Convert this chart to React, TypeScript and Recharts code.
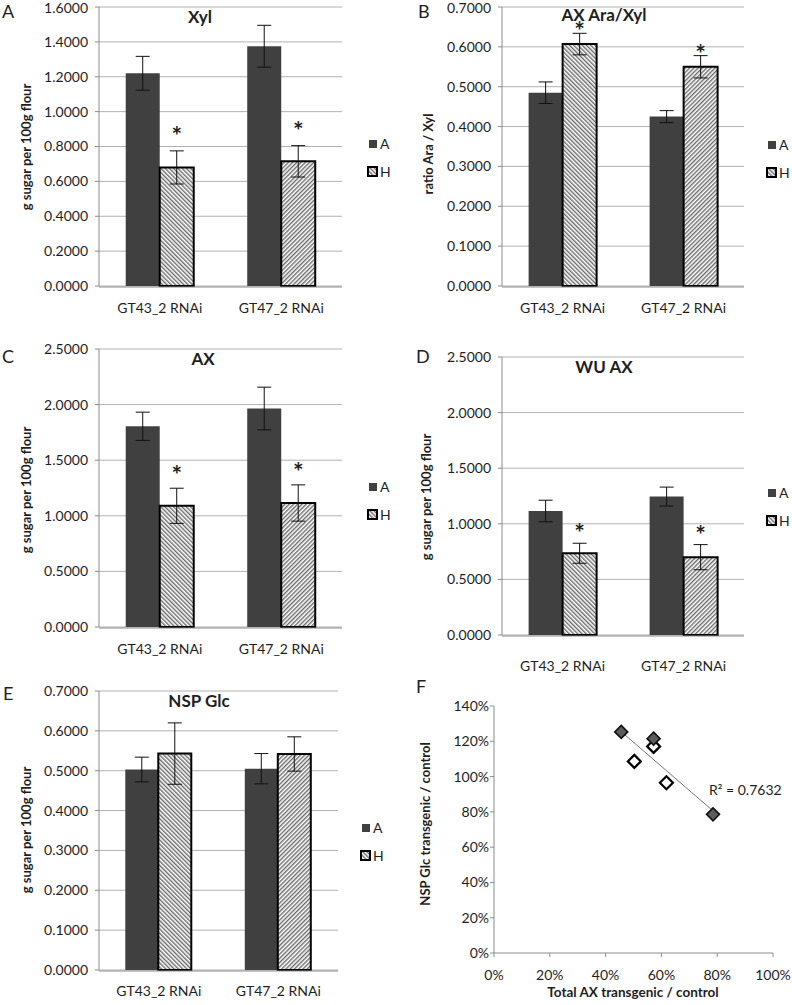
import React from 'react'
import {
  BarChart, Bar, XAxis, YAxis, CartesianGrid, ErrorBar, Cell, LabelList, Legend,
  ScatterChart, Scatter,
} from 'recharts'

const CATEGORIES = ['GT43_2 RNAi', 'GT47_2 RNAi']

// A – Xyl
const XYL_A = [1.22, 1.375]
const XYL_A_ERR = [0.097, 0.12]
const XYL_H = [0.68, 0.715]
const XYL_H_ERR = [0.095, 0.09]
const XYL_TICKS = [0, 0.2, 0.4, 0.6, 0.8, 1.0, 1.2, 1.4, 1.6]

// B – AX Ara/Xyl
const ARA_A = [0.485, 0.425]
const ARA_A_ERR = [0.027, 0.015]
const ARA_H = [0.607, 0.55]
const ARA_H_ERR = [0.027, 0.028]
const ARA_TICKS = [0, 0.1, 0.2, 0.3, 0.4, 0.5, 0.6, 0.7]

// C – AX
const AX_A = [1.805, 1.965]
const AX_A_ERR = [0.127, 0.192]
const AX_H = [1.09, 1.115]
const AX_H_ERR = [0.158, 0.163]
const AX_TICKS = [0, 0.5, 1.0, 1.5, 2.0, 2.5]

// D – WU AX
const WU_A = [1.115, 1.245]
const WU_A_ERR = [0.097, 0.085]
const WU_H = [0.735, 0.7]
const WU_H_ERR = [0.09, 0.113]
const WU_TICKS = [0, 0.5, 1.0, 1.5, 2.0, 2.5]

// E – NSP Glc
const GLC_A = [0.503, 0.505]
const GLC_A_ERR = [0.031, 0.038]
const GLC_H = [0.543, 0.542]
const GLC_H_ERR = [0.077, 0.043]
const GLC_TICKS = [0, 0.1, 0.2, 0.3, 0.4, 0.5, 0.6, 0.7]

// F – NSP Glc vs total AX (transgenic / control)
const F_DARK_X = [0.456, 0.572, 0.785]
const F_DARK_Y = [1.253, 1.215, 0.786]
const F_LIGHT_X = [0.503, 0.572, 0.618]
const F_LIGHT_Y = [1.086, 1.171, 0.965]
const F_X_TICKS = [0, 0.2, 0.4, 0.6, 0.8, 1.0]
const F_Y_TICKS = [0, 0.2, 0.4, 0.6, 0.8, 1.0, 1.2, 1.4]
const R2_TEXT = 'R² = 0.7632'

const FONT = 'Lato, "Open Sans", sans-serif'
const AXIS = '#8c8c8c'
const GRID = '#b2b2b2'
const DARK = '#404040'
const INK = '#1e1e1e'
const HATCH = ['url(#hatch-back)', 'url(#hatch-fwd)']

type Box = { left: number; top: number; right: number; bottom: number }

interface PanelProps {
  letter: string
  letterPos: [number, number]
  title: string
  titlePos: [number, number]
  yLabel: string
  yLabelPos: [number, number]
  a: number[]
  aErr: number[]
  h: number[]
  hErr: number[]
  ticks: number[]
  left: number
  top: number
  plot: Box
  labelGap: number
  legendPos: [number, number]
  starGap?: number
}

const W = 396
const H = 345
const Y_AXIS_W = 60
const X_AXIS_H = 30
const LEGEND_W = 40

function LegendBox() {
  const row: React.CSSProperties = { display: 'flex', alignItems: 'center', height: 18 }
  return (
    <div style={{ fontFamily: FONT, fontSize: 14, color: INK, lineHeight: '18px' }}>
      <div style={row}>
        <span style={{ display: 'inline-block', width: 8, height: 8, background: DARK, margin: '0 3px 0 2px' }} />A
      </div>
      <div style={{ ...row, marginTop: 10 }}>
        <svg width={12} height={12} style={{ marginRight: 1 }}>
          <rect x={1} y={1} width={9} height={9} fill={HATCH[0]} stroke="#000" strokeWidth={2} />
        </svg>H
      </div>
    </div>
  )
}

// asterisk sits a fixed gap above the top of the error bar
function starLabel(gap: number) {
  return (props: any) => {
    const vb = props.x !== undefined ? props : props.viewBox
    const x = Number(vb.x), y = Number(vb.y), w = Number(vb.width), ht = Number(vb.height)
    const errPx = Number(props.value) * ht
    const cy = y - errPx - gap
    return (
      <text x={x + w / 2} y={cy + 14} textAnchor="middle" fontSize={25} fontWeight={700}
        fill={INK} fontFamily={FONT}>*</text>
    )
  }
}

function BarPanel(p: PanelProps) {
  const data = CATEGORIES.map((cat, i) => ({
    cat, a: p.a[i], aErr: p.aErr[i], h: p.h[i], hErr: p.hErr[i],
  }))
  const margin = {
    top: p.plot.top,
    left: p.plot.left - Y_AXIS_W,
    right: W - p.plot.right - LEGEND_W,
    bottom: H - p.plot.bottom - X_AXIS_H - 1,
  }
  const yMax = p.ticks[p.ticks.length - 1]
  return (
    <div style={{ position: 'absolute', left: p.left, top: p.top }}>
      <BarChart width={W} height={H} data={data} margin={margin} barGap={0} barCategoryGap="22%">
        <CartesianGrid xAxisId="cat" vertical={false} stroke={GRID} />
        {/* tick marks on the category boundaries, like Excel */}
        <XAxis type="number" domain={[0, 2]} ticks={[0, 1, 2]} allowDataOverflow tick={false}
          axisLine={false} tickLine={{ stroke: AXIS }} tickSize={5} height={1} />
        <XAxis xAxisId="cat" dataKey="cat" height={X_AXIS_H} tickLine={false} tickSize={0}
          tickMargin={0} axisLine={{ stroke: AXIS }}
          tick={(t: any) => (
            <text x={t.x} y={t.y + p.labelGap} dy="0.71em" textAnchor="middle"
              fontSize={14} fill={INK} fontFamily={FONT}>{t.payload.value}</text>
          )}
        />
        <YAxis domain={[0, yMax]} ticks={p.ticks} width={Y_AXIS_W} tickSize={4} tickMargin={7}
          axisLine={{ stroke: AXIS }} tickLine={{ stroke: AXIS }}
          tick={{ fontSize: 14, fill: INK, fontFamily: FONT }}
          tickFormatter={(v: number) => v.toFixed(4)} />
        <Legend layout="vertical" align="right" verticalAlign="middle"
          wrapperStyle={{ left: p.legendPos[0], top: p.legendPos[1], width: LEGEND_W }}
          content={() => <LegendBox />} />
        <Bar xAxisId="cat" dataKey="a" fill={DARK} isAnimationActive={false}>
          <ErrorBar dataKey="aErr" width={7} stroke="#111" strokeWidth={1} />
        </Bar>
        <Bar xAxisId="cat" dataKey="h" stroke="#000" strokeWidth={2} isAnimationActive={false}>
          {data.map((d, i) => <Cell key={d.cat} fill={HATCH[i]} />)}
          <ErrorBar dataKey="hErr" width={7} stroke="#111" strokeWidth={1} />
          {p.starGap !== undefined && (
            <LabelList dataKey={(d: any) => d.hErr / d.h} content={starLabel(p.starGap)} />
          )}
        </Bar>
        <text x={p.letterPos[0]} y={p.letterPos[1]} fontSize={18} fill={INK} fontFamily={FONT}>{p.letter}</text>
        <text x={p.titlePos[0]} y={p.titlePos[1]} textAnchor="middle" fontSize={17} fontWeight={700}
          fill={INK} fontFamily={FONT}>{p.title}</text>
        <text x={p.yLabelPos[0]} y={p.yLabelPos[1]} textAnchor="middle" dominantBaseline="central"
          transform={`rotate(-90 ${p.yLabelPos[0]} ${p.yLabelPos[1]})`}
          fontSize={13} fontWeight={700} fill={INK} fontFamily={FONT}>{p.yLabel}</text>
      </BarChart>
    </div>
  )
}

function Diamond(fill: string, stroke: string, sw: number) {
  return (props: any) => {
    const { cx, cy } = props
    const r = 6.5
    return (
      <polygon points={`${cx},${cy - r} ${cx + r},${cy} ${cx},${cy + r} ${cx - r},${cy}`}
        fill={fill} stroke={stroke} strokeWidth={sw} />
    )
  }
}

function ScatterPanel() {
  const dark = F_DARK_X.map((x, i) => ({ x, y: F_DARK_Y[i] }))
  const light = F_LIGHT_X.map((x, i) => ({ x, y: F_LIGHT_Y[i] }))
  // linear trendline through all six points
  const all = [...dark, ...light]
  const n = all.length
  const mx = all.reduce((s, d) => s + d.x, 0) / n
  const my = all.reduce((s, d) => s + d.y, 0) / n
  const sxy = all.reduce((s, d) => s + (d.x - mx) * (d.y - my), 0)
  const sxx = all.reduce((s, d) => s + (d.x - mx) ** 2, 0)
  const slope = sxy / sxx
  const icpt = my - slope * mx
  const xs = all.map((d) => d.x)
  const trend = [Math.min(...xs), Math.max(...xs)].map((x) => ({ x, y: icpt + slope * x }))

  const plot = { left: 98, top: 46, right: 377, bottom: 293 }
  const margin = { top: plot.top, left: plot.left - Y_AXIS_W, right: W - plot.right, bottom: H - plot.bottom - X_AXIS_H }
  return (
    <div style={{ position: 'absolute', left: 396, top: 660 }}>
      <ScatterChart width={W} height={H} margin={margin}>
        <XAxis type="number" dataKey="x" domain={[0, 1]} ticks={F_X_TICKS} height={X_AXIS_H}
          tickSize={4} tickMargin={13} axisLine={{ stroke: AXIS }} tickLine={{ stroke: AXIS }}
          tick={{ fontSize: 14, fill: INK, fontFamily: FONT }}
          tickFormatter={(v: number) => `${Math.round(v * 100)}%`} />
        <YAxis type="number" dataKey="y" domain={[0, 1.4]} ticks={F_Y_TICKS} width={Y_AXIS_W}
          tickSize={4} tickMargin={1} axisLine={{ stroke: AXIS }} tickLine={{ stroke: AXIS }}
          tick={{ fontSize: 14, fill: INK, fontFamily: FONT }}
          tickFormatter={(v: number) => `${Math.round(v * 100)}%`} />
        <Scatter data={trend} line={{ stroke: '#777', strokeWidth: 1 }} shape={() => <g />} isAnimationActive={false} />
        <Scatter data={light} shape={Diamond('#fff', '#000', 2.2)} isAnimationActive={false} />
        <Scatter data={dark} shape={Diamond('#5c5c5c', '#111', 1.6)} isAnimationActive={false} />
        <text x={313} y={135} fontSize={14} fill={INK} fontFamily={FONT}>{R2_TEXT}</text>
        <text x={20} y={33} fontSize={18} fill={INK} fontFamily={FONT}>F</text>
        <text x={29} y={164} textAnchor="middle" dominantBaseline="central" transform="rotate(-90 29 164)"
          fontSize={13} fontWeight={700} fill={INK} fontFamily={FONT}>NSP Glc transgenic / control</text>
        <text x={237} y={337} textAnchor="middle" fontSize={13.5} fontWeight={700} fill={INK}
          fontFamily={FONT}>Total AX transgenic / control</text>
      </ScatterChart>
    </div>
  )
}

export default function App() {
  return (
    <div style={{ position: 'absolute', left: 0, top: 0, width: 792, height: 1005, background: '#fff', overflow: 'hidden', fontFamily: FONT }}>
      <svg width={0} height={0} style={{ position: 'absolute' }}>
        <defs>
          <pattern id="hatch-back" width={3} height={3} patternUnits="userSpaceOnUse" patternTransform="rotate(-45)">
            <rect width={3} height={3} fill="#fff" />
            <rect width={1.4} height={3} fill="#6a6a6a" />
          </pattern>
          <pattern id="hatch-fwd" width={3} height={3} patternUnits="userSpaceOnUse" patternTransform="rotate(45)">
            <rect width={3} height={3} fill="#fff" />
            <rect width={1.4} height={3} fill="#6a6a6a" />
          </pattern>
        </defs>
      </svg>
      <BarPanel letter="A" letterPos={[2, 18]} title="Xyl" titlePos={[200, 23]}
        yLabel="g sugar per 100g flour" yLabelPos={[26, 147]}
        a={XYL_A} aErr={XYL_A_ERR} h={XYL_H} hErr={XYL_H_ERR} ticks={XYL_TICKS}
        left={0} top={0} plot={{ left: 99, top: 7, right: 342, bottom: 286 }} labelGap={16}
        legendPos={[367, 135]} starGap={20} />
      <BarPanel letter="B" letterPos={[22, 18]} title="AX Ara/Xyl" titlePos={[208, 21]}
        yLabel="ratio Ara / Xyl" yLabelPos={[32, 154]}
        a={ARA_A} aErr={ARA_A_ERR} h={ARA_H} hErr={ARA_H_ERR} ticks={ARA_TICKS}
        left={396} top={0} plot={{ left: 106, top: 7, right: 348, bottom: 286 }} labelGap={16}
        legendPos={[370, 136]} starGap={7} />
      <BarPanel letter="C" letterPos={[2, 33]} title="AX" titlePos={[203, 35]}
        yLabel="g sugar per 100g flour" yLabelPos={[26, 160]}
        a={AX_A} aErr={AX_A_ERR} h={AX_H} hErr={AX_H_ERR} ticks={AX_TICKS}
        left={0} top={330} plot={{ left: 99, top: 19, right: 342, bottom: 297 }} labelGap={16}
        legendPos={[367, 148]} starGap={18} />
      <BarPanel letter="D" letterPos={[20, 33]} title="WU AX" titlePos={[208, 43]}
        yLabel="g sugar per 100g flour" yLabelPos={[30, 167]}
        a={WU_A} aErr={WU_A_ERR} h={WU_H} hErr={WU_H_ERR} ticks={WU_TICKS}
        left={396} top={330} plot={{ left: 106, top: 27, right: 348, bottom: 305 }} labelGap={25}
        legendPos={[370, 154]} starGap={15} />
      <BarPanel letter="E" letterPos={[3, 40]} title="NSP Glc" titlePos={[199, 47]}
        yLabel="g sugar per 100g flour" yLabelPos={[26, 170]}
        a={GLC_A} aErr={GLC_A_ERR} h={GLC_H} hErr={GLC_H_ERR} ticks={GLC_TICKS}
        left={0} top={660} plot={{ left: 99, top: 31, right: 338, bottom: 310 }} labelGap={15}
        legendPos={[360, 159]} />
      <ScatterPanel />
    </div>
  )
}
